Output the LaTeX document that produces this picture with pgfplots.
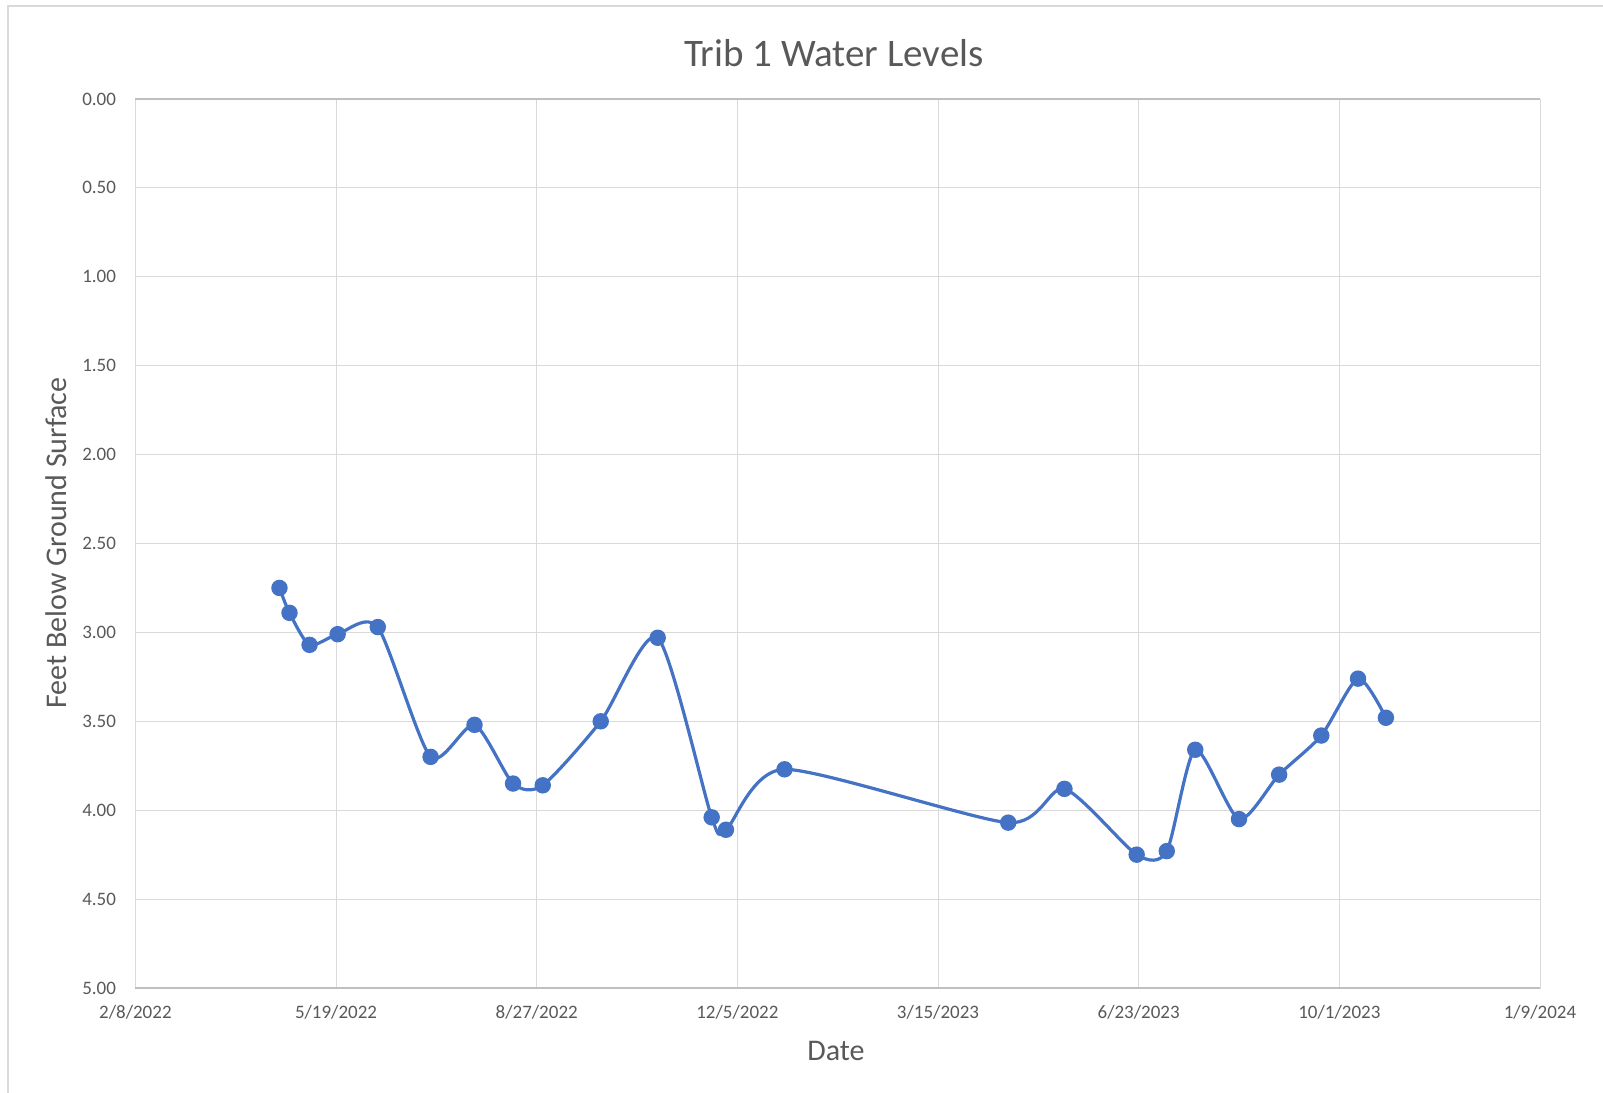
\documentclass[border=0pt]{standalone}
\usepackage{pgfplots}
\pgfplotsset{compat=1.18}
\usepackage{fontspec}
\setmainfont{Carlito}
\definecolor{linecol}{HTML}{4472C4}
\definecolor{gridcol}{HTML}{D9D9D9}
\definecolor{axcol}{HTML}{BFBFBF}
\definecolor{txtcol}{HTML}{595959}
\begin{document}
\begin{tikzpicture}
\useasboundingbox (0,0) rectangle (801.5pt,546.5pt);
\draw[gridcol, line width=0.6pt] (4pt,0) -- (4pt,543.5pt) -- (801.5pt,543.5pt);
\begin{axis}[
  at={(67.7pt,52.5pt)}, anchor=south west,
  scale only axis, width=702.3pt, height=444.5pt,
  xmin=0, xmax=700, ymin=0, ymax=5, y dir=reverse,
  xtick={0,100,200,300,400,500,600,700},
  xticklabels={2/8/2022,5/19/2022,8/27/2022,12/5/2022,3/15/2023,6/23/2023,10/1/2023,1/9/2024},
  ytick={0,0.5,1,1.5,2,2.5,3,3.5,4,4.5,5},
  yticklabel style={/pgf/number format/fixed, /pgf/number format/fixed zerofill, /pgf/number format/precision=2},
  /pgf/number format/assume math mode=true,
  tick style={draw=none},
  grid=major, grid style={gridcol, line width=0.5pt},
  axis line style={gridcol, line width=0.5pt},
  ticklabel style={font=\fontsize{9.5pt}{11pt}\selectfont, text=txtcol},
  xticklabel style={anchor=center, yshift=-12pt},
  yticklabel style={anchor=east, inner sep=0pt, xshift=-9.5pt},
  clip=false,
]
\addplot[linecol, line width=1.6pt, smooth, tension=0.42, mark=*, mark size=3.3pt,
  mark options={fill=linecol, draw=none, solid}] coordinates {
(71.8,2.75) (76.8,2.89) (86.8,3.07) (100.8,3.01) (120.8,2.97)
(147.1,3.70) (169.0,3.52) (188.2,3.85) (203.0,3.86) (231.9,3.50)
(260.3,3.03) (287.2,4.04) (294.3,4.11) (323.5,3.77) (435.0,4.07)
(463.0,3.88) (499.0,4.25) (514.0,4.23) (528.2,3.66) (550.0,4.05)
(570.0,3.80) (591.0,3.58) (609.3,3.26) (623.2,3.48)
};
\draw[axcol, line width=1pt] (axis cs:0,5) -- (axis cs:700,5);
\draw[axcol, line width=0.8pt] (axis cs:0,0) -- (axis cs:700,0);
\end{axis}
\node[text=txtcol, font=\fontsize{19.5pt}{23pt}\selectfont] at (417pt,520pt) {Trib 1 Water Levels};
\node[text=txtcol, font=\fontsize{15pt}{18pt}\selectfont] at (418pt,21pt) {Date};
\node[text=txtcol, font=\fontsize{15pt}{18pt}\selectfont, rotate=90] at (28pt,275pt) {Feet Below Ground Surface};
\end{tikzpicture}
\end{document}
